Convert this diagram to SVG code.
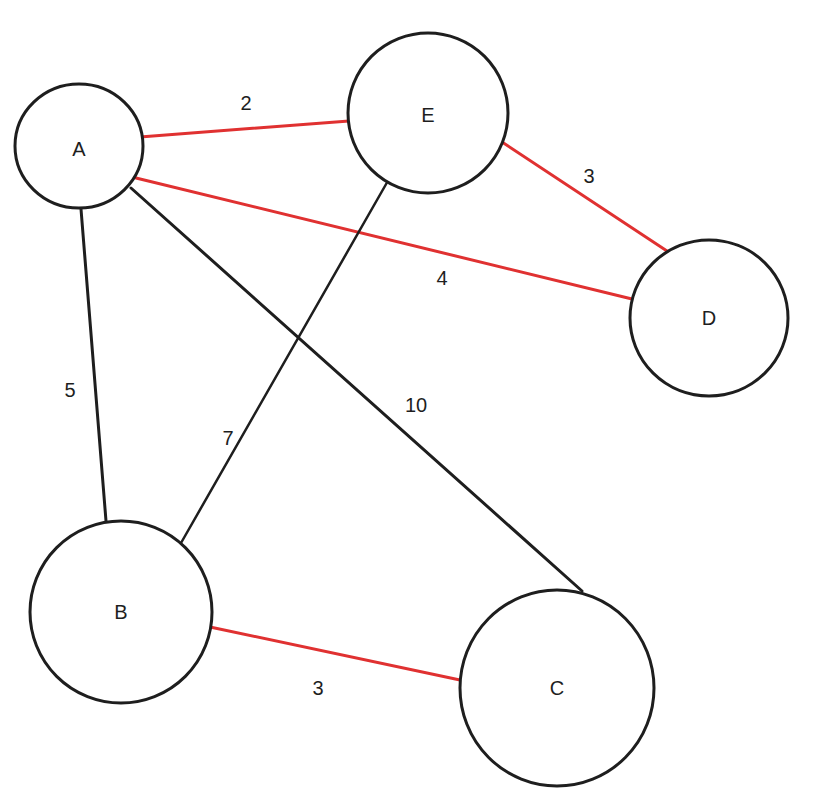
<svg xmlns="http://www.w3.org/2000/svg" width="817" height="805" viewBox="0 0 817 805">
<style>
.node{fill:#fff;stroke:#1e1e1e;stroke-width:3}
.lbl{font-family:"Liberation Sans",sans-serif;font-size:20px;fill:#1e1e1e;text-anchor:middle;dominant-baseline:central}
.red{stroke:#e03131;stroke-width:3;fill:none;stroke-linecap:round}
.blk{stroke:#1e1e1e;stroke-width:2.5;fill:none;stroke-linecap:round}
.thk{stroke-width:3}
.w{font-family:"Liberation Sans",sans-serif;font-size:20px;fill:#1e1e1e;text-anchor:middle;dominant-baseline:central}
</style>
<rect width="817" height="805" fill="#fff"/>
<g id="connectors">
<line class="red" x1="140" y1="137" x2="349" y2="121"/>
<line class="red" x1="502" y1="142" x2="667" y2="251"/>
<line class="red" x1="136" y1="178" x2="632" y2="299"/>
<line class="blk thk" x1="81" y1="209" x2="106" y2="521"/>
<line class="blk" x1="397" y1="165" x2="181" y2="543"/>
<line class="blk thk" x1="131" y1="188" x2="582" y2="591"/>
<line class="red" x1="210" y1="627" x2="460" y2="680"/>
<text class="w" x="246" y="103">2</text>
<text class="w" x="589" y="176">3</text>
<text class="w" x="442" y="278">4</text>
<text class="w" x="70" y="390">5</text>
<text class="w" x="228" y="438">7</text>
<text class="w" x="416" y="405">10</text>
<text class="w" x="318" y="688">3</text>
</g>
<g id="A"><ellipse class="node" cx="79" cy="146" rx="64" ry="62"/><text class="lbl" x="79" y="149">A</text></g>
<g id="E"><ellipse class="node" cx="428" cy="113" rx="80" ry="80"/><text class="lbl" x="428" y="115">E</text></g>
<g id="D"><ellipse class="node" cx="709" cy="318" rx="79" ry="78"/><text class="lbl" x="709" y="318">D</text></g>
<g id="B"><ellipse class="node" cx="121" cy="612" rx="91" ry="91"/><text class="lbl" x="121" y="612">B</text></g>
<g id="C"><ellipse class="node" cx="557" cy="688" rx="97" ry="98"/><text class="lbl" x="557" y="688">C</text></g>
</svg>
